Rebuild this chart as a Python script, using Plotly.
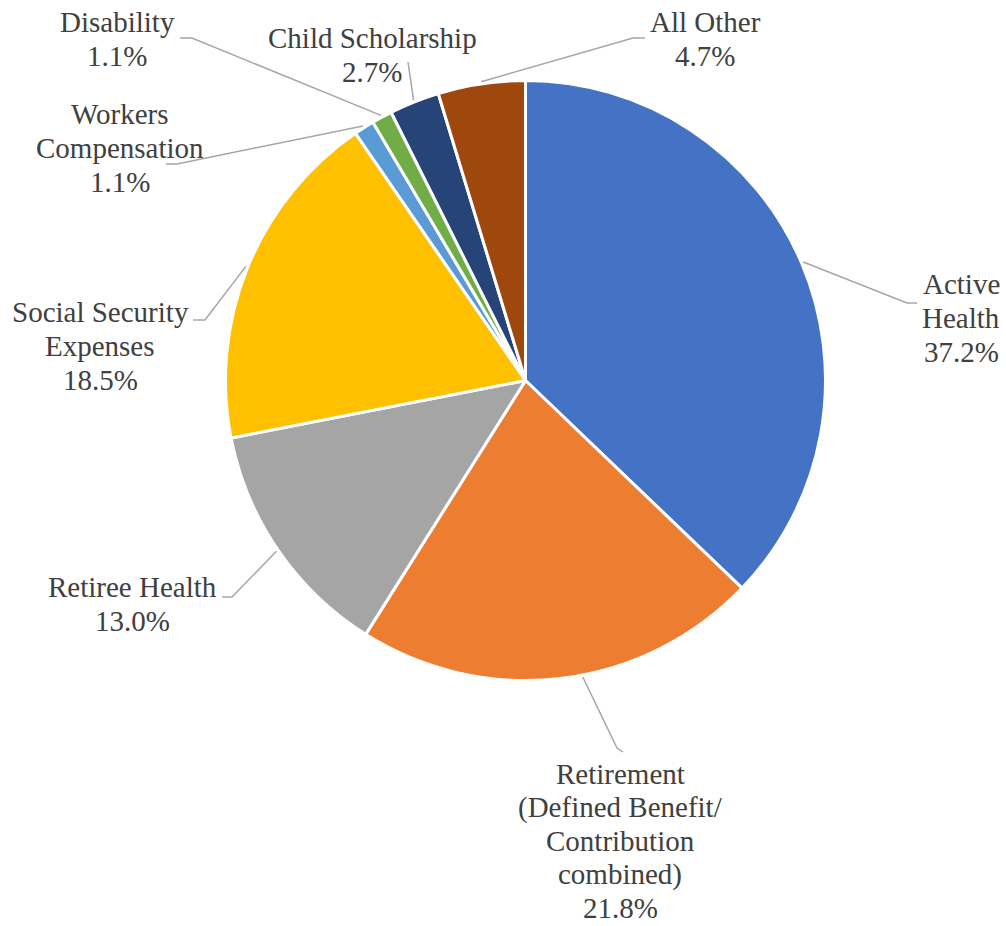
import math
import plotly.graph_objects as go

# ---- data ----
categories = ["Active Health", "Retirement", "Retiree Health", "Social Security Expenses",
              "Workers Compensation", "Disability", "Child Scholarship", "All Other"]
label_lines = [["Active", "Health"],
               ["Retirement", "(Defined Benefit/", "Contribution", "combined)"],
               ["Retiree Health"], ["Social Security", "Expenses"], ["Workers", "Compensation"],
               ["Disability"], ["Child Scholarship"], ["All Other"]]
shares = [37.2, 21.8, 13.0, 18.5, 1.1, 1.1, 2.7, 4.7]

# ---- style / layout ----
colors = ["#4472C4", "#ED7D31", "#A5A5A5", "#FFC000", "#5B9BD5", "#70AD47", "#264478", "#9E480E"]
W, H = 1006, 926
CX, CY, R = 525.5, 380.5, 300.0
FAMILY = "Times New Roman, Liberation Serif, Tinos, serif"
FSIZE = 29
PITCH = 33.6
# label centre (px), leader elbow (px), leader end (px), anchor fraction within slice
label_pos = [(961, 318), (620, 841), (132, 604), (100, 346), (120, 148), (117, 39), (372, 55), (705, 39)]
elbows = [(907, 303), (617, 748), (232, 597), (205, 320), (177, 164), (192, 38), None, (633, 38)]
ends = [(917, 303), (623, 752), (222, 597), (193, 320), (166, 164), (180, 38), (408, 62), (645, 38)]
anchor_frac = [0.5, 0.45, 0.5, 0.5, 0.5, 0.5, 0.5, 0.5]

fig = go.Figure()
fig.add_trace(go.Pie(
    labels=categories, values=shares, sort=False, direction="clockwise", rotation=0,
    marker=dict(colors=colors, line=dict(color="white", width=3)),
    textinfo="none", hoverinfo="label+percent", showlegend=False,
    domain=dict(x=[(CX - R) / W, (CX + R) / W], y=[1 - (CY + R) / H, 1 - (CY - R) / H]),
))

total = sum(shares)
cum = 0.0
for i, v in enumerate(shares):
    a0 = cum / total * 360
    a1 = (cum + v) / total * 360
    cum += v
    ang = math.radians(a0 + (a1 - a0) * anchor_frac[i])
    sx = CX + (R + 2) * math.sin(ang)
    sy = CY - (R + 2) * math.cos(ang)
    pts = [(sx, sy)]
    if elbows[i] is not None:
        pts.append(elbows[i])
    pts.append(ends[i])
    fig.add_trace(go.Scatter(
        x=[p[0] for p in pts], y=[p[1] for p in pts], mode="lines",
        line=dict(color="#A6A6A6", width=1.5), hoverinfo="skip", showlegend=False,
    ))
    lines = label_lines[i] + [f"{v:.1f}%"]
    n = len(lines)
    lx, ly = label_pos[i]
    for k, t in enumerate(lines):
        fig.add_annotation(
            x=lx, y=ly + (k - (n - 1) / 2) * PITCH, xref="x", yref="y",
            xanchor="center", yanchor="middle", text=t, showarrow=False,
            font=dict(family=FAMILY, size=FSIZE, color="#404040"),
        )

fig.update_layout(
    width=W, height=H, margin=dict(l=0, r=0, t=0, b=0),
    paper_bgcolor="white", plot_bgcolor="rgba(0,0,0,0)",
    font=dict(family=FAMILY, color="#404040"),
    xaxis=dict(range=[0, W], visible=False, fixedrange=True),
    yaxis=dict(range=[H, 0], visible=False, fixedrange=True),
    showlegend=False,
)
fig.write_html("out.html")
